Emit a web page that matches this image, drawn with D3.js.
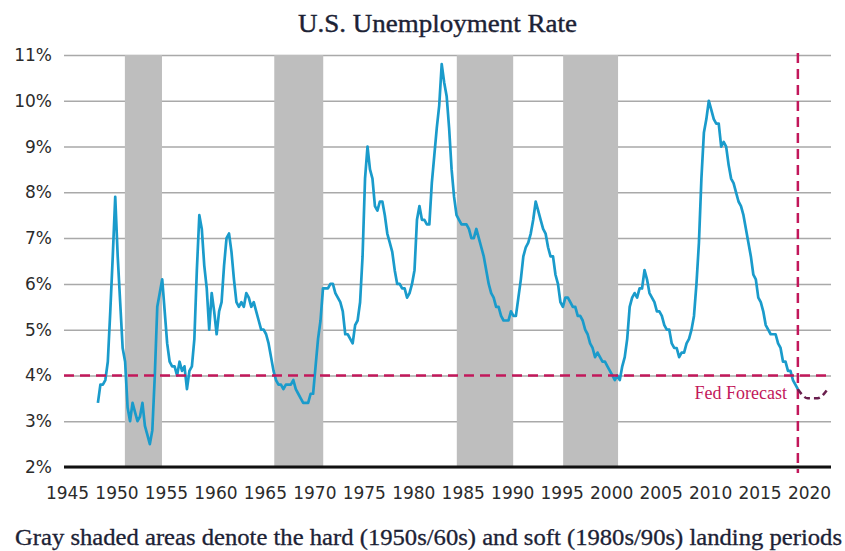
<!DOCTYPE html>
<html>
<head>
<meta charset="utf-8">
<script src="https://cdn.jsdelivr.net/npm/d3@7"></script>
<style>
  body { margin: 0; background: #fff; }
  .chart text { fill: #2b2b2b; }
</style>
</head>
<body>
<div class="chart"></div>
<script>
const width = 845;
const height = 551;

// quarterly unemployment rate (%), one row per year starting 1948
const startYear = 1948;
const quarterlyRate = [
  [3.4, 3.8, 3.8, 3.9], [4.3, 5.4, 6.6, 7.9], [6.6, 5.6, 4.6, 4.3], [3.3, 3.0, 3.4, 3.2],
  [3.0, 3.1, 3.4, 2.9], [2.7, 2.5, 2.8, 4.0], [5.5, 5.8, 6.1, 5.4], [4.7, 4.3, 4.2, 4.2],
  [4.0, 4.3, 4.1, 4.2], [3.7, 4.1, 4.2, 4.8], [6.3, 7.5, 7.2, 6.4], [5.9, 5.0, 5.8, 5.4],
  [4.9, 5.4, 5.6, 6.4], [7.0, 7.1, 6.7, 6.1], [5.6, 5.5, 5.6, 5.5], [5.8, 5.7, 5.5, 5.6],
  [5.4, 5.2, 5.0, 5.0], [4.9, 4.7, 4.4, 4.1], [3.9, 3.8, 3.8, 3.7], [3.8, 3.8, 3.8, 3.9],
  [3.7, 3.6, 3.5, 3.4], [3.4, 3.4, 3.6, 3.6], [4.2, 4.8, 5.2, 5.9], [5.9, 5.9, 6.0, 6.0],
  [5.8, 5.7, 5.6, 5.4], [4.9, 4.9, 4.8, 4.7], [5.1, 5.2, 5.6, 6.6], [8.3, 9.0, 8.5, 8.3],
  [7.7, 7.6, 7.8, 7.8], [7.5, 7.1, 6.9, 6.7], [6.3, 6.0, 6.0, 5.9], [5.9, 5.7, 5.8, 6.0],
  [6.3, 7.4, 7.7, 7.4], [7.4, 7.3, 7.3, 8.2], [8.8, 9.4, 9.9, 10.8], [10.4, 10.1, 9.4, 8.5],
  [7.9, 7.5, 7.4, 7.3], [7.3, 7.3, 7.2, 7.0], [7.0, 7.2, 7.0, 6.8], [6.6, 6.3, 6.0, 5.8],
  [5.7, 5.5, 5.5, 5.3], [5.2, 5.2, 5.2, 5.4], [5.3, 5.3, 5.7, 6.1], [6.6, 6.8, 6.9, 7.1],
  [7.4, 7.8, 7.6, 7.4], [7.2, 7.1, 6.8, 6.6], [6.6, 6.2, 6.0, 5.6], [5.5, 5.7, 5.7, 5.6],
  [5.5, 5.5, 5.3, 5.3], [5.2, 5.0, 4.9, 4.7], [4.6, 4.4, 4.5, 4.4], [4.3, 4.3, 4.2, 4.1],
  [4.0, 3.9, 4.0, 3.9], [4.2, 4.4, 4.8, 5.5], [5.7, 5.8, 5.7, 5.9], [5.9, 6.3, 6.1, 5.8],
  [5.7, 5.6, 5.4, 5.4], [5.3, 5.1, 5.0, 5.0], [4.7, 4.6, 4.6, 4.4], [4.5, 4.5, 4.7, 4.8],
  [5.0, 5.3, 6.0, 6.9], [8.3, 9.3, 9.6, 10.0], [9.8, 9.6, 9.5, 9.5], [9.0, 9.1, 9.0, 8.6],
  [8.3, 8.2, 8.0, 7.8], [7.7, 7.5, 7.2, 6.9], [6.6, 6.2, 6.1, 5.7], [5.6, 5.4, 5.1, 5.0],
  [4.9, 4.9, 4.9, 4.7], [4.6, 4.3, 4.3, 4.1], [4.1, 3.9, 3.8, 3.7]
];

// Fed forecast
const forecastYears = [2018.875, 2019.875, 2020.875, 2021.875];
const forecastRate = [3.7, 3.5, 3.5, 3.7];

// hard (1950s/60s) and soft (1980s/90s) landing periods
const landingStart = [1950.85, 1965.95, 1984.4, 1995.15];
const landingEnd = [1954.6, 1970.9, 1990.1, 2000.7];

const yTicks = [2, 3, 4, 5, 6, 7, 8, 9, 10, 11];
const xTicks = [1945, 1950, 1955, 1960, 1965, 1970, 1975, 1980, 1985, 1990, 1995, 2000, 2005, 2010, 2015, 2020];
const targetRate = 4;

const plotLeft = 64;
const plotRight = 831;

const series = [];
quarterlyRate.forEach((row, i) => {
  row.forEach((v, q) => series.push({ t: startYear + i + 0.125 + q * 0.25, v: v }));
});

const svg = d3.select('.chart')
  .append('svg')
  .attr('width', width)
  .attr('height', height);

const xScale = d3.scaleLinear().domain([1945, 2020]).range([67, 809]);
const yScale = d3.scaleLinear().domain([2, 11]).range([467, 55]);

// y axis + gridlines
const yAxis = d3.axisLeft(yScale)
  .tickValues(yTicks)
  .tickSize(-(plotRight - plotLeft))
  .tickPadding(12)
  .tickFormat((d) => d + '%');

const yg = svg.append('g')
  .attr('transform', `translate(${plotLeft}, 0)`)
  .call(yAxis);
yg.select('.domain').remove();
yg.selectAll('line').attr('stroke', '#a9a9a9').attr('stroke-width', 1.5);
yg.selectAll('text')
  .style('font-family', 'DejaVu Sans, sans-serif')
  .style('font-size', '17px')
  .attr('fill', '#2b2b2b');

// shaded landing periods
svg.selectAll('rect.band')
  .data(landingStart)
  .enter()
  .append('rect')
  .attr('class', 'band')
  .attr('x', (d) => xScale(d))
  .attr('y', yScale(11))
  .attr('width', (d, i) => xScale(landingEnd[i]) - xScale(d))
  .attr('height', yScale(2) - yScale(11))
  .attr('fill', '#bebebe');

// x axis labels
const xAxis = d3.axisBottom(xScale)
  .tickValues(xTicks)
  .tickSize(0)
  .tickPadding(20)
  .tickFormat(d3.format('d'));

const xg = svg.append('g')
  .attr('transform', `translate(0, ${yScale(2)})`)
  .call(xAxis);
xg.select('.domain').remove();
xg.selectAll('text')
  .style('font-family', 'DejaVu Sans, sans-serif')
  .style('font-size', '17px')
  .attr('fill', '#2b2b2b');

// bottom axis line
svg.append('line')
  .attr('x1', plotLeft)
  .attr('x2', plotRight)
  .attr('y1', yScale(2))
  .attr('y2', yScale(2))
  .attr('stroke', '#111')
  .attr('stroke-width', 3);

// unemployment line
const line = d3.line()
  .x((d) => xScale(d.t))
  .y((d) => yScale(d.v));

svg.append('path')
  .datum(series)
  .attr('d', line)
  .attr('fill', 'none')
  .attr('stroke', '#1a9bcb')
  .attr('stroke-width', 2.7)
  .attr('stroke-linejoin', 'round');

// 4% reference line
svg.append('line')
  .attr('x1', plotLeft)
  .attr('x2', plotRight)
  .attr('y1', yScale(targetRate))
  .attr('y2', yScale(targetRate))
  .attr('stroke', '#c2185b')
  .attr('stroke-width', 2.5)
  .attr('stroke-dasharray', '10,6');

// forecast start marker
svg.append('line')
  .attr('x1', xScale(forecastYears[0]))
  .attr('x2', xScale(forecastYears[0]))
  .attr('y1', yScale(11) - 2)
  .attr('y2', yScale(2) + 6)
  .attr('stroke', '#c2185b')
  .attr('stroke-width', 2.5)
  .attr('stroke-dasharray', '10,6');

// forecast curve
const forecastLine = d3.line()
  .curve(d3.curveMonotoneX)
  .x((d, i) => xScale(forecastYears[i]))
  .y((d) => yScale(d));

svg.append('path')
  .datum(forecastRate)
  .attr('d', forecastLine)
  .attr('fill', 'none')
  .attr('stroke', '#6a1f4e')
  .attr('stroke-width', 2.5)
  .attr('stroke-dasharray', '6,4');

svg.append('text')
  .attr('x', 787)
  .attr('y', 399)
  .attr('text-anchor', 'end')
  .style('font-family', 'Liberation Serif, serif')
  .style('font-size', '18px')
  .style('fill', '#c2185b')
  .text('Fed Forecast');

// title
svg.append('text')
  .attr('x', 298)
  .attr('y', 32)
  .attr('textLength', 279)
  .attr('lengthAdjust', 'spacingAndGlyphs')
  .style('font-family', 'Liberation Serif, serif')
  .style('font-size', '26px')
  .style('fill', '#1c2235')
  .style('stroke', '#1c2235')
  .style('stroke-width', 0.4)
  .text('U.S. Unemployment Rate');

// caption
svg.append('text')
  .attr('x', 15)
  .attr('y', 545)
  .attr('textLength', 827)
  .attr('lengthAdjust', 'spacingAndGlyphs')
  .style('font-family', 'Liberation Serif, serif')
  .style('font-size', '22.5px')
  .style('fill', '#1c2235')
  .style('stroke', '#1c2235')
  .style('stroke-width', 0.3)
  .text('Gray shaded areas denote the hard (1950s/60s) and soft (1980s/90s) landing periods');
</script>
</body>
</html>
